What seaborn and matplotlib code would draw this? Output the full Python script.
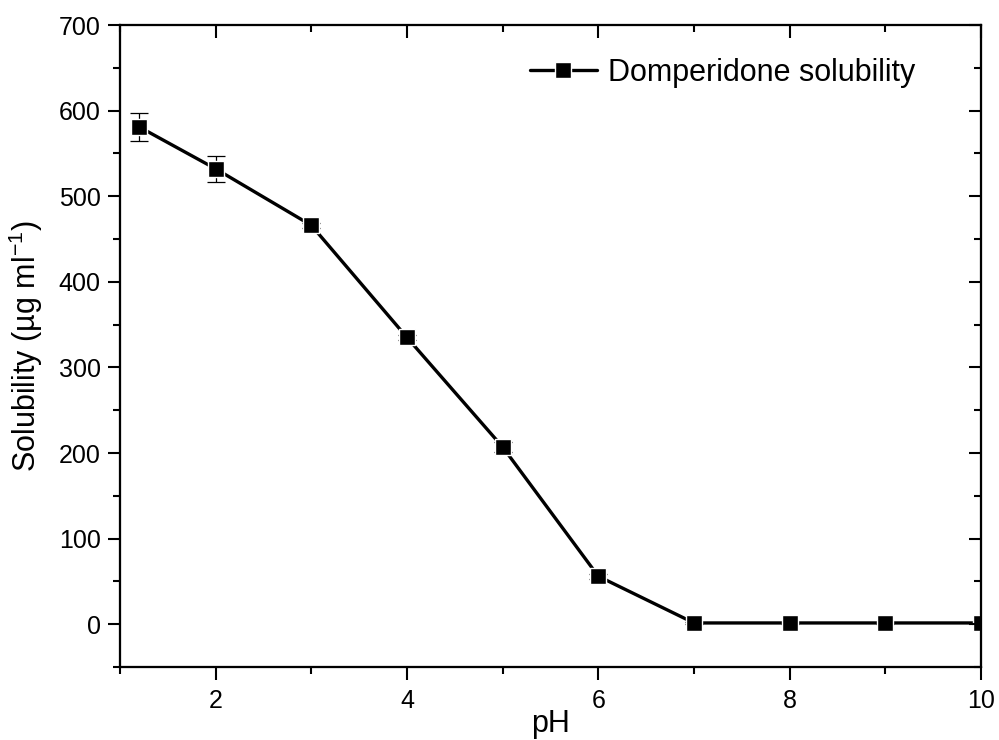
import matplotlib
matplotlib.use("Agg")
import matplotlib.pyplot as plt
from matplotlib.ticker import MultipleLocator
import numpy as np
import pandas as pd
import seaborn as sns

# pH-dependent solubility of domperidone
ph = [1.2, 2, 3, 4, 5, 6, 7, 8, 9, 10]
solubility = [581, 532, 466, 335, 207, 56, 1.5, 1.5, 1.5, 1.5]
sd = [16, 15, 3, 3, 6, 3, 1, 1, 1, 1]

sns.set_style("ticks")
plt.rcParams["font.family"] = ["Liberation Sans", "DejaVu Sans"]
plt.rcParams["text.color"] = "black"
plt.rcParams["axes.labelcolor"] = "black"
plt.rcParams["xtick.color"] = "black"
plt.rcParams["ytick.color"] = "black"

df = pd.DataFrame({"pH": ph, "Solubility": solubility, "sd": sd})

fig = plt.figure(figsize=(9.99, 7.40), dpi=100)
ax = fig.add_axes([0.1201, 0.0986, 0.8619, 0.8676])

ax.errorbar(df["pH"], df["Solubility"], yerr=df["sd"], fmt="none",
            ecolor="black", elinewidth=0.9, capsize=6.5, capthick=0.9, zorder=2)
sns.lineplot(data=df, x="pH", y="Solubility", ax=ax, color="black",
             linewidth=2.4, marker="s", markersize=11.5,
             markerfacecolor="black", markeredgecolor="white",
             markeredgewidth=1.0, label="Domperidone solubility",
             zorder=3)

xlim = (1, 10)
ylim = (-50, 700)
ax.set_xlim(*xlim)
ax.set_ylim(*ylim)
ax.xaxis.set_major_locator(MultipleLocator(2))
ax.xaxis.set_minor_locator(MultipleLocator(1))
ax.yaxis.set_major_locator(MultipleLocator(100))
ax.yaxis.set_minor_locator(MultipleLocator(50))

for s in ax.spines.values():
    s.set_visible(True)
    s.set_linewidth(1.5)
    s.set_color("black")

ax.tick_params(axis="both", which="major", direction="out", length=9,
               width=1.5, labelsize=18, color="black", labelcolor="black")
ax.tick_params(axis="x", which="major", pad=7)
ax.tick_params(axis="y", which="major", pad=5)
ax.tick_params(axis="both", which="minor", direction="out", length=5,
               width=1.5, color="black")

# top and right axes: inward ticks, no labels
ax_top = ax.twiny()
ax_top.set_xlim(*xlim)
ax_top.xaxis.set_major_locator(MultipleLocator(2))
ax_top.xaxis.set_minor_locator(MultipleLocator(1))
ax_top.tick_params(axis="x", which="both", direction="in", width=1.5,
                   labeltop=False, labelbottom=False, top=True, bottom=False)
ax_top.tick_params(axis="x", which="major", length=9)
ax_top.tick_params(axis="x", which="minor", length=5)

ax_right = ax.twinx()
ax_right.set_ylim(*ylim)
ax_right.yaxis.set_major_locator(MultipleLocator(100))
ax_right.yaxis.set_minor_locator(MultipleLocator(50))
ax_right.tick_params(axis="y", which="both", direction="in", width=1.5,
                     labelright=False, labelleft=False, right=True, left=False)
ax_right.tick_params(axis="y", which="major", length=9)
ax_right.tick_params(axis="y", which="minor", length=5)
for extra in (ax_top, ax_right):
    for s in extra.spines.values():
        s.set_linewidth(1.5)
        s.set_color("black")

ax.set_xlabel("pH", fontsize=22, labelpad=-3)
ax.set_ylabel("Solubility (\u00b5g ml$^{\\mathregular{-1}}$)",
              fontsize=22, labelpad=10)

ax.legend(loc="center left", bbox_to_anchor=(0.476, 0.925),
          frameon=False, fontsize=22, handlelength=2.2,
          handletextpad=0.35, borderpad=0, borderaxespad=0)

fig.savefig("out.png", dpi=100)
